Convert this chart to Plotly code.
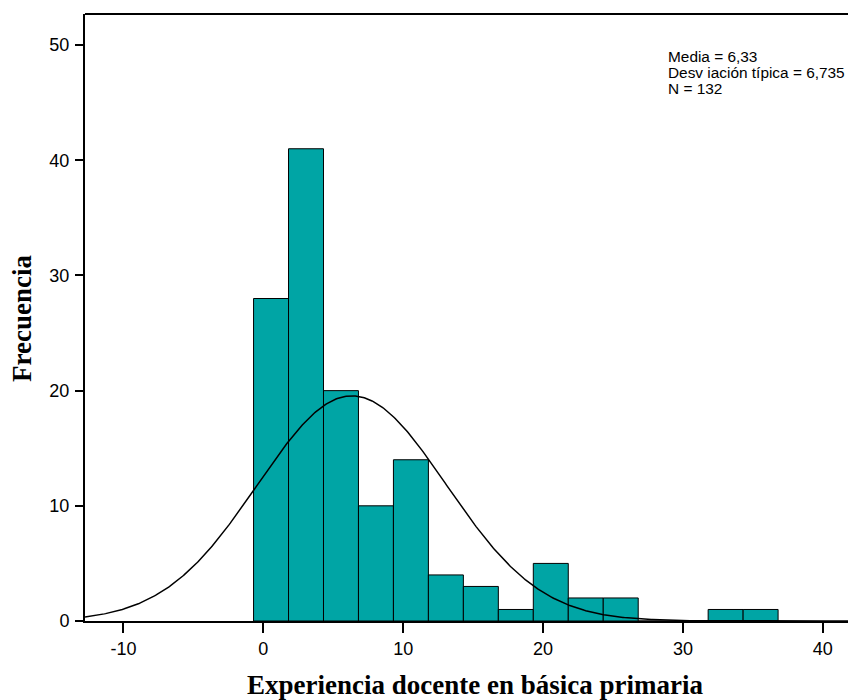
import numpy as np
import plotly.graph_objects as go

# ---- data ----
bin_start = -0.7
bin_width = 2.5
counts = [28, 41, 20, 10, 14, 4, 3, 1, 5, 2, 2, 0, 0, 1, 1]
mean = 6.33
std = 6.735
n_total = 132
x_ticks = [-10, 0, 10, 20, 30, 40]
x_tick_labels = ["-10", "0", "10", "20", "30", "40"]
y_ticks = [0, 10, 20, 30, 40, 50]
y_tick_labels = ["0", "10", "20", "30", "40", "50"]
stats_lines = ["Media = 6,33", "Desv iación típica = 6,735", "N = 132"]
x_title = "Experiencia docente en básica primaria"
y_title = "Frecuencia"

# ---- derived ----
centers = [bin_start + bin_width * (i + 0.5) for i in range(len(counts))]
x_range = [-12.75, 42.37]
y_range = [0, 52.7]
xc = np.linspace(x_range[0], x_range[1], 600)
yc = n_total * bin_width / (std * np.sqrt(2 * np.pi)) * np.exp(-0.5 * ((xc - mean) / std) ** 2)

fig = go.Figure()
fig.add_trace(go.Bar(
    x=centers, y=counts, width=bin_width,
    marker=dict(color="rgb(0,165,165)", line=dict(color="black", width=1)),
    hoverinfo="skip",
))
fig.add_trace(go.Scatter(
    x=xc, y=yc, mode="lines", line=dict(color="black", width=1.5),
    hoverinfo="skip",
))

# page body has an 8px margin, so the figure is 8px smaller and margins reduced by 8
tick_font = dict(family="Liberation Sans, Arial, sans-serif", size=18, color="black")
fig.update_layout(
    width=848, height=692,
    margin=dict(l=77, r=0, t=6, b=79, pad=0),
    paper_bgcolor="white", plot_bgcolor="white",
    showlegend=False,
    xaxis=dict(
        range=x_range, tickvals=x_ticks, ticktext=x_tick_labels,
        showgrid=False, zeroline=False,
        showline=True, linecolor="black", linewidth=2,
        ticks="outside", ticklen=10, tickwidth=2, tickcolor="black",
        tickfont=tick_font,
    ),
    yaxis=dict(
        range=y_range, tickvals=y_ticks, ticktext=y_tick_labels,
        showgrid=False, zeroline=False,
        showline=True, linecolor="black", linewidth=2,
        ticks="outside", ticklen=8, tickwidth=2, tickcolor="black",
        tickfont=tick_font, ticklabelstandoff=2,
    ),
)

# top frame line
fig.add_shape(type="line", xref="paper", yref="paper", x0=0, x1=1, y0=1, y1=1,
              line=dict(color="black", width=2))

# positions below are given in page pixels of the reference
W, H, L = 771, 607, 85
def px2paper(px, py):
    return (px - L) / W, (621 - py) / H

for txt, py in zip(stats_lines, [56, 72, 88]):
    xp, yp = px2paper(666, py)
    fig.add_annotation(text=txt, xref="paper", yref="paper", x=xp, y=yp,
                       xanchor="left", yanchor="middle", showarrow=False,
                       font=dict(family="Liberation Sans, Arial, sans-serif", size=15.4, color="black"))

title_font = dict(family="Liberation Serif, Times New Roman, serif", size=27, color="black")
xp, yp = px2paper(475, 685)
fig.add_annotation(text="<b>" + x_title + "</b>", xref="paper", yref="paper", x=xp, y=yp,
                   xanchor="center", yanchor="middle", showarrow=False, font=title_font)
xp, yp = px2paper(22, 319)
fig.add_annotation(text="<b>" + y_title + "</b>", xref="paper", yref="paper", x=xp, y=yp,
                   xanchor="center", yanchor="middle", showarrow=False, textangle=-90,
                   font=title_font)

fig.write_html("out.html")
